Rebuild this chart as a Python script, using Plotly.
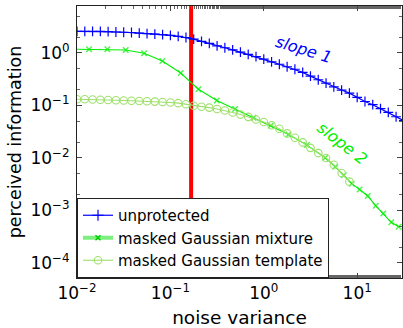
import math
import plotly.graph_objects as go

# ---------------- data ----------------
noise_grid = [0.01, 0.01212, 0.01468, 0.01778, 0.02154, 0.0261, 0.03162, 0.03831,
              0.04642, 0.05623, 0.06813, 0.08254, 0.1, 0.1212, 0.1468, 0.1778,
              0.2154, 0.261, 0.3162, 0.3831, 0.4642, 0.5623, 0.6813, 0.8254,
              1.0, 1.212, 1.468, 1.778, 2.154, 2.61, 3.162, 3.831, 4.642, 5.623,
              6.813, 8.254, 10.0, 12.12, 14.68, 17.78, 21.54, 26.1, 31.62]

unprotected = [2.57, 2.57, 2.57, 2.57, 2.541, 2.512, 2.483, 2.455, 2.399, 2.344,
               2.291, 2.239, 2.163, 2.065, 1.972, 1.841, 1.66, 1.531, 1.365, 1.259,
               1.143, 1.035, 0.944, 0.851, 0.767, 0.679, 0.61, 0.547, 0.49, 0.427,
               0.363, 0.309, 0.266, 0.226, 0.197, 0.172, 0.143, 0.119, 0.1035,
               0.0871, 0.0741, 0.061, 0.0513]

template_x = noise_grid[:36]
template = [0.1318, 0.1312, 0.13, 0.1288, 0.1274, 0.1262, 0.1245, 0.123, 0.1219,
            0.1202, 0.1186, 0.1167, 0.114, 0.1107, 0.1059, 0.0986, 0.0944, 0.0912,
            0.0857, 0.0804, 0.0733, 0.0671, 0.0607, 0.0541, 0.0485, 0.042, 0.036,
            0.0294, 0.0243, 0.0198, 0.0156, 0.0124, 0.01, 0.00741, 0.00518, 0.00354]

mixture_x = [0.01, 0.01346, 0.02113, 0.03326, 0.05224, 0.08203, 0.129, 0.1995,
             0.3141, 0.4932, 0.7762, 1.191, 1.841, 2.897, 4.55, 5.82, 7.18, 8.75,
             10.62, 13.0, 15.81, 19.05, 23.2, 27.8]
mixture = [1.175, 1.175, 1.175, 1.14, 0.986, 0.705, 0.416, 0.204, 0.1245, 0.0857,
           0.0586, 0.0416, 0.0281, 0.0176, 0.0101, 0.00682, 0.00468, 0.00324,
           0.00251, 0.00189, 0.00123, 0.000877, 0.000596, 0.000491]

threshold_x = 0.1667

x_tick_vals = [0.01, 0.1, 1, 10]
x_tick_text = ["10<sup>\u22122</sup>", "10<sup>\u22121</sup>", "10<sup>0</sup>", "10<sup>1</sup>"]
y_tick_vals = [1e-4, 1e-3, 1e-2, 1e-1, 1]
y_tick_text = ["10<sup>\u22124</sup>", "10<sup>\u22123</sup>", "10<sup>\u22122</sup>",
               "10<sup>\u22121</sup>", "10<sup>0</sup>"]

series_names = ["unprotected", "masked Gaussian mixture", "masked Gaussian template"]
slope_labels = ["slope 1", "slope 2"]
slope1_pos = (2.71, 1.19)
slope2_pos = (6.92, 0.0185)

# ---------------- styles ----------------
BLUE = "#0000ff"
GREEN = "#00ee00"
LIGHT = "#9ee06a"
FONT = "DejaVu Sans"

fig = go.Figure()

# red vertical threshold line
fig.add_trace(go.Scatter(x=[threshold_x, threshold_x], y=[1e-6, 1e3], mode="lines",
                         line=dict(color="#ff0000", width=4), showlegend=False,
                         hoverinfo="skip"))

fig.add_trace(go.Scatter(x=noise_grid, y=unprotected, mode="lines+markers",
                         line=dict(color=BLUE, width=1.2),
                         marker=dict(symbol="cross-thin", size=7,
                                     line=dict(width=1.2, color=BLUE)),
                         showlegend=False))

mix_sizes = [0] + [5.5] * (len(mixture_x) - 1)
fig.add_trace(go.Scatter(x=mixture_x, y=mixture, mode="lines+markers",
                         line=dict(color=GREEN, width=1.1),
                         marker=dict(symbol="x-thin", size=mix_sizes,
                                     line=dict(width=1.4, color=GREEN)),
                         showlegend=False))

fig.add_trace(go.Scatter(x=template_x, y=template, mode="lines+markers",
                         line=dict(color=LIGHT, width=1.1),
                         marker=dict(symbol="circle-open", size=7.5,
                                     line=dict(width=1.1, color=LIGHT)),
                         showlegend=False))

# legend-only entries
fig.add_trace(go.Scatter(x=[None], y=[None], mode="lines+markers", name=series_names[0],
                         line=dict(color=BLUE, width=1.2), legendgroup="a",
                         marker=dict(symbol="cross-thin", size=8, line=dict(width=1.2, color=BLUE))))
fig.add_trace(go.Scatter(x=[None], y=[None], mode="lines+markers", name=series_names[1],
                         line=dict(color="#7cf07c", width=4), legendgroup="b",
                         marker=dict(symbol="x-thin", size=5, line=dict(width=1.5, color="#00cc00"))))
fig.add_trace(go.Scatter(x=[None], y=[None], mode="lines+markers", name=series_names[2],
                         line=dict(color=LIGHT, width=1.1), legendgroup="c",
                         marker=dict(symbol="circle-open", size=7.5, line=dict(width=1.1, color=LIGHT))))

axis_common = dict(
    type="log", showgrid=False, zeroline=False, showline=True, linecolor="#222222",
    linewidth=1, mirror="allticks", ticks="inside", ticklen=5, tickcolor="#444444",
    automargin=False,
    tickfont=dict(family=FONT, size=17, color="black"),
    minor=dict(ticks="inside", ticklen=3, tickcolor="#666666", showgrid=False),
)

fig.update_layout(
    width=403, height=328,
    margin=dict(l=77, r=1, t=6, b=50),
    paper_bgcolor="white", plot_bgcolor="white",
    font=dict(family=FONT, color="black"),
    xaxis=dict(axis_common, range=[-2, 1.48], tickvals=x_tick_vals, ticktext=x_tick_text,
               title=dict(text="noise variance", font=dict(family=FONT, size=18.5), standoff=8)),
    yaxis=dict(axis_common, range=[-4.286, 0.895], tickvals=y_tick_vals, ticktext=y_tick_text,
               ticklabelstandoff=3,
               title=dict(text="perceived information", font=dict(family=FONT, size=17.5), standoff=4)),
    legend=dict(x=0, y=0, xanchor="left", yanchor="bottom", bgcolor="white",
                bordercolor="#222222", borderwidth=1, tracegroupgap=0, itemwidth=30,
                font=dict(family=FONT, size=15, color="black")),
    showlegend=True,
    annotations=[
        dict(x=math.log10(slope1_pos[0]), y=math.log10(slope1_pos[1]), xref="x", yref="y",
             text="<i>" + slope_labels[0] + "</i>", showarrow=False, textangle=17,
             font=dict(family=FONT, size=16, color=BLUE)),
        dict(x=math.log10(slope2_pos[0]), y=math.log10(slope2_pos[1]), xref="x", yref="y",
             text="<i>" + slope_labels[1] + "</i>", showarrow=False, textangle=38,
             font=dict(family=FONT, size=16, color=GREEN)),
    ],
)

fig.write_html("out.html", config={"displayModeBar": False},
               post_script="document.body.style.margin='0';document.body.style.overflow='hidden';")
